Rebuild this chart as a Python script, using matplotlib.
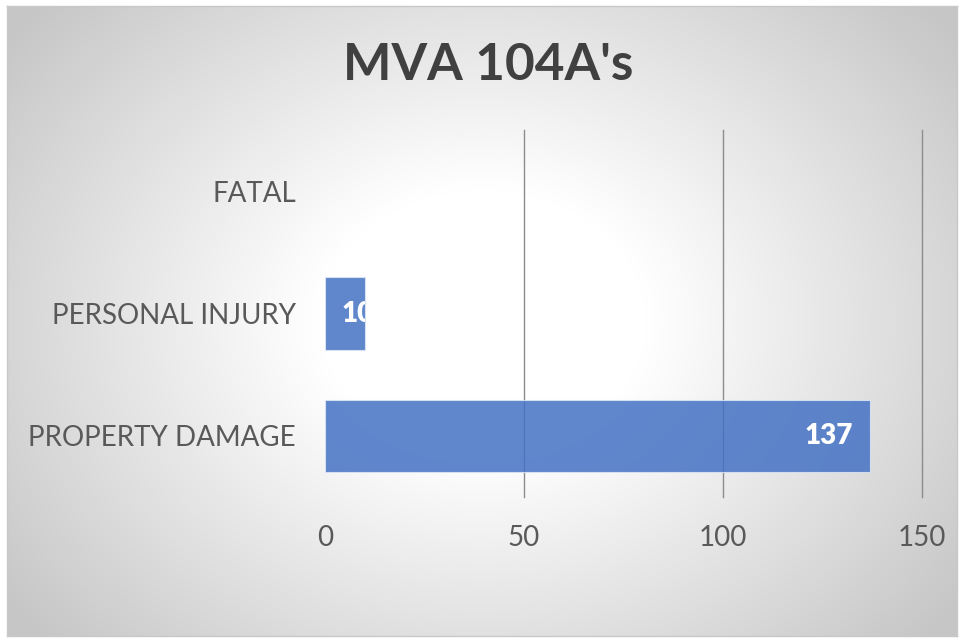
import numpy as np
import matplotlib.pyplot as plt

# data
categories = ['PROPERTY DAMAGE', 'PERSONAL INJURY', 'FATAL']
values = [137, 10, 0]
xticks = [0, 50, 100, 150]
title = "MVA 104A's"

W, H = 960, 642
fig = plt.figure(figsize=(W / 100, H / 100), dpi=100)
fig.patch.set_facecolor('white')

# chart area with radial gradient
x0, y0, x1, y1 = 7, 6, 957, 636
bg = fig.add_axes([x0 / W, 1 - y1 / H, (x1 - x0) / W, (y1 - y0) / H], zorder=0)
gx, gy = np.meshgrid(np.linspace(0, 1, 400), np.linspace(0, 1, 300))
cx, cy = 0.5, 0.5
r = np.sqrt(((gx - cx) / 0.62) ** 2 + ((gy - cy) / 0.75) ** 2)
r = np.clip((r - 0.28) / 0.72, 0, 1)
shade = 1 - 0.22 * r
img = np.dstack([shade, shade, shade])
bg.imshow(img, extent=[0, 1, 0, 1], aspect='auto', origin='upper')
bg.set_xlim(0, 1)
bg.set_ylim(0, 1)
bg.set_xticks([])
bg.set_yticks([])
for s in bg.spines.values():
    s.set_color('#c8c8c8')
    s.set_linewidth(1)

# plot area
left, right, top, bottom = 325, 922, 130, 497
ax = fig.add_axes([left / W, 1 - bottom / H, (right - left) / W, (bottom - top) / H], zorder=1)
ax.patch.set_alpha(0)

y = np.arange(len(categories))
bars = ax.barh(y, values, height=0.59, color='#4472C4', alpha=0.85,
               edgecolor='#dce6f5', linewidth=0.8, zorder=2)
for bar, v in zip(bars, values):
    if v == 0:
        bar.set_visible(False)
ax.set_xlim(0, 150)
ax.set_ylim(-0.5, len(categories) - 0.5)
ax.set_xticks(xticks)
ax.set_xticklabels([str(t) for t in xticks])
ax.set_yticks(y)
ax.set_yticklabels(categories)
ax.tick_params(axis='x', length=0, pad=20, labelsize=20, labelcolor='#595959')
ax.tick_params(axis='y', length=0, pad=21, labelsize=20, labelcolor='#595959')
for lbl in ax.get_xticklabels() + ax.get_yticklabels():
    lbl.set_family('Lato')
for t in xticks[1:]:
    ax.axvline(t, color='#8c8c8c', linewidth=1, zorder=1, clip_on=False)
for s in ax.spines.values():
    s.set_visible(False)

# data labels (inside end, clipped to bar)
for bar, v in zip(bars, values):
    if v == 0:
        continue
    yc = bar.get_y() + bar.get_height() / 2
    if v > 20:
        txt = ax.annotate(str(v), (v, yc), xytext=(-17, 0), textcoords='offset pixels',
                          ha='right', va='center', color='white', fontsize=20,
                          fontweight='heavy', family='Lato', zorder=3)
    else:
        txt = ax.annotate(str(v), (0, yc), xytext=(17, 0), textcoords='offset pixels',
                          ha='left', va='center', color='white', fontsize=20,
                          fontweight='heavy', family='Lato', zorder=3)
    txt.set_clip_path(bar)

fig.text(488 / W, 1 - 66 / H, title, ha='center', va='center', fontsize=37,
         fontweight='bold', color='#404040', family='Lato', zorder=2)

fig.savefig('out.png', dpi=100)
